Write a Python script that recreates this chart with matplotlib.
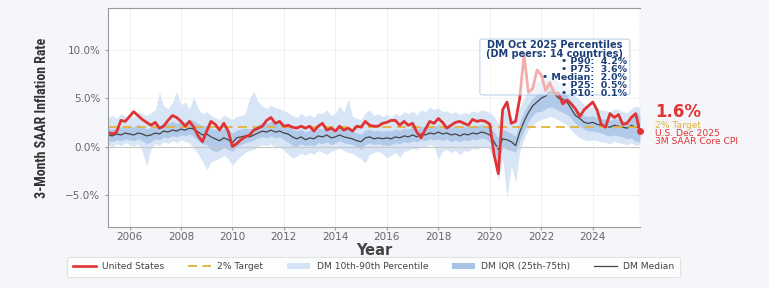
import numpy as np
import pandas as pd
import matplotlib
matplotlib.use('Agg')
import matplotlib.pyplot as plt
from matplotlib import font_manager
from matplotlib.patches import FancyBboxPatch, Patch
from matplotlib.lines import Line2D
from matplotlib.ticker import FuncFormatter

# bimonthly readings, 3M SAAR (%)
us_core = [1.5, 1.3, 1.5, 2.7, 2.6,
           3.1, 3.6, 3.2, 2.8, 2.5, 2.2,
           2.5, 1.9, 2.1, 2.7, 3.2, 3.0,
           2.6, 2.1, 2.6, 2.0, 1.1, 0.5,
           1.6, 2.6, 2.3, 1.7, 2.4, 1.6,
           0.0, 0.3, 0.7, 1.0, 1.2, 1.7,
           1.9, 2.1, 2.7, 3.0, 2.4, 2.6,
           2.1, 2.2, 2.0, 1.9, 2.1, 1.9,
           2.1, 1.6, 2.1, 2.4, 1.7, 1.9,
           1.6, 2.1, 1.7, 1.9, 1.6, 2.1,
           2.0, 2.6, 2.2, 2.1, 2.1, 2.4,
           2.5, 2.7, 2.7, 2.2, 2.6, 2.2,
           2.4, 1.5, 0.9, 1.8, 2.6, 2.4,
           2.9, 2.5, 1.9, 2.2, 2.5, 2.6,
           2.4, 2.2, 2.8, 2.6, 2.7, 2.6,
           2.3, -0.8, -2.8, 3.8, 4.6, 2.4,
           2.6, 5.0, 9.5, 5.6, 6.0, 7.9,
           7.4, 5.8, 6.6, 5.5, 5.5, 4.4,
           4.8, 4.4, 3.9, 3.1, 3.8, 4.2,
           4.6, 3.8, 2.3, 2.0, 3.4, 3.0,
           3.3, 2.3, 2.4, 3.0, 3.4, 1.6]

dm_median = [1.2, 1.1, 1.3, 1.2, 1.4,
             1.3, 1.2, 1.4, 1.3, 1.1, 1.2,
             1.4, 1.3, 1.6, 1.5, 1.7, 1.6,
             1.8, 1.7, 1.9, 1.8, 1.5, 1.2,
             1.3, 1.0, 0.8, 0.6, 0.9, 0.7,
             0.4, 0.9, 1.0, 1.1, 1.0, 1.2,
             1.4, 1.6, 1.5, 1.7, 1.5, 1.6,
             1.4, 1.3, 1.0, 0.8, 1.0, 0.7,
             0.9, 0.8, 1.1, 1.0, 1.2, 0.9,
             1.0, 1.2, 1.0, 0.9, 0.8, 0.6,
             0.5, 0.9, 1.0, 0.8, 0.9, 0.8,
             0.9, 0.8, 1.0, 0.9, 1.1, 1.0,
             1.2, 1.0, 1.3, 1.2, 1.4, 1.3,
             1.5, 1.3, 1.4, 1.2, 1.3, 1.1,
             1.3, 1.2, 1.4, 1.3, 1.5, 1.4,
             1.2, 0.5, -0.3, 0.8, 0.7, 0.5,
             0.1, 1.5, 2.6, 3.5, 4.2, 4.6,
             5.0, 5.2, 5.6, 5.5, 5.0, 4.9,
             4.6, 3.9, 3.2, 2.9, 2.5, 2.4,
             2.5, 2.3, 2.2, 2.1, 2.0, 2.2,
             2.1, 2.0, 1.9, 2.2, 2.0, 2.0]

dm_p25 = [0.6, 0.5, 0.7, 0.6, 0.8,
          0.7, 0.6, 0.8, 0.6, 0.3, 0.5,
          0.8, 0.7, 1.0, 0.9, 1.1, 1.0,
          1.2, 1.1, 1.3, 1.0, 0.6, 0.3,
          0.2, -0.3, -0.5, -0.4, -0.1, -0.3,
          -0.5, 0.0, 0.2, 0.4, 0.5, 0.7,
          0.9, 1.0, 0.9, 1.1, 0.9, 1.0,
          0.7, 0.5, 0.1, 0.0, 0.3, 0.1,
          0.2, 0.1, 0.4, 0.3, 0.5, 0.2,
          0.4, 0.6, 0.4, 0.3, 0.2, 0.0,
          -0.3, 0.2, 0.4, 0.2, 0.3, 0.2,
          0.1, 0.2, 0.4, 0.3, 0.5, 0.4,
          0.6, 0.5, 0.7, 0.6, 0.8, 0.7,
          0.8, 0.6, 0.8, 0.5, 0.7, 0.5,
          0.7, 0.6, 0.8, 0.7, 0.9, 0.8,
          0.5, -0.5, -1.5, 0.0, -0.3, -0.4,
          -0.6, 0.6, 1.7, 2.6, 3.2, 3.6,
          3.6, 3.9, 4.1, 4.0, 3.7, 3.5,
          3.3, 2.9, 2.4, 2.1, 1.8, 1.6,
          1.6, 1.5, 1.4, 1.2, 1.1, 1.2,
          1.1, 1.0, 0.8, 0.9, 0.5, 0.6]

dm_p75 = [1.9, 1.8, 2.0, 2.0, 2.2,
          2.1, 2.0, 2.3, 2.1, 1.8, 2.0,
          2.2, 2.1, 2.5, 2.4, 2.6, 2.4,
          2.6, 2.5, 2.8, 2.7, 2.4, 2.1,
          2.2, 1.9, 1.8, 1.6, 1.9, 1.7,
          1.4, 1.7, 1.8, 1.9, 1.8, 2.0,
          2.3, 2.5, 2.4, 2.6, 2.4, 2.5,
          2.2, 2.1, 1.8, 1.6, 1.8, 1.5,
          1.7, 1.6, 1.9, 1.8, 2.0, 1.7,
          1.8, 2.1, 1.8, 1.7, 1.6, 1.4,
          1.3, 1.7, 1.8, 1.6, 1.7, 1.6,
          1.7, 1.6, 1.8, 1.7, 1.9, 1.8,
          2.0, 1.8, 2.1, 2.0, 2.2, 2.1,
          2.3, 2.1, 2.2, 2.0, 2.1, 1.9,
          2.1, 2.0, 2.2, 2.1, 2.3, 2.2,
          2.0, 1.5, 0.9, 1.8, 1.6, 1.4,
          1.1, 2.5, 3.6, 4.4, 5.0, 5.4,
          5.8, 6.0, 6.3, 6.2, 5.8, 5.6,
          5.3, 4.7, 4.0, 3.6, 3.2, 3.1,
          3.2, 3.0, 2.9, 2.8, 2.7, 2.9,
          2.8, 2.7, 2.6, 3.0, 3.6, 3.2]

dm_p90 = [3.0, 3.2, 2.9, 3.4, 3.1,
          3.3, 3.0, 3.6, 3.4, 3.2, 3.5,
          3.8, 5.6, 4.2, 3.9, 4.5, 5.7,
          4.3, 4.6, 3.9, 5.1, 3.9, 3.4,
          3.6, 3.2, 3.0, 2.8, 3.3, 3.0,
          2.8, 3.1, 3.2, 3.4, 5.0, 5.7,
          4.6, 4.2, 3.9, 4.3, 4.0, 3.9,
          3.7, 3.5, 3.2, 3.0, 3.4, 3.1,
          3.3, 3.0, 3.5, 3.4, 3.8, 3.2,
          3.4, 4.2, 3.6, 4.9, 3.1, 2.9,
          2.8, 3.5, 3.8, 3.2, 3.4, 3.1,
          3.3, 3.0, 3.4, 3.2, 3.6, 3.4,
          3.7, 3.3, 3.8, 3.6, 4.1, 3.8,
          4.0, 3.6, 3.7, 3.4, 3.6, 3.3,
          3.5, 3.4, 3.7, 3.5, 3.8, 3.7,
          3.5, 3.1, 2.4, 4.3, 3.5, 3.0,
          2.6, 4.0, 5.0, 5.8, 6.2, 6.6,
          6.9, 7.0, 7.3, 7.1, 6.7, 6.4,
          6.2, 5.7, 5.2, 4.8, 4.3, 4.1,
          4.1, 3.9, 3.8, 3.7, 3.6, 3.9,
          3.8, 3.6, 3.5, 3.9, 4.2, 4.0]

dm_p10 = [0.2, 0.0, 0.3, 0.1, 0.4,
          0.2, 0.0, 0.3, -0.5, -2.0, -0.3,
          0.3, 0.1, 0.5, 0.3, 0.6, 0.4,
          0.7, 0.5, 0.4, -0.2, -0.8, -1.5,
          -2.4, -1.6, -1.4, -1.2, -0.9, -1.3,
          -1.9, -1.4, -1.0, -0.6, -0.4, -0.3,
          0.0, 0.2, 0.1, 0.3, -0.2, 0.0,
          -0.4, -0.8, -1.2, -1.0, -0.7, -0.9,
          -0.6, -0.8, -0.4, -0.6, -0.8, -0.5,
          -0.3, -0.2, -0.4, -0.6, -0.7, -1.0,
          -1.3, -1.7, -0.8, -0.6, -0.5, -0.7,
          -1.2, -0.9, -0.6, -1.1, -0.5, -0.4,
          -0.2, -0.3, 0.0, -0.1, 0.2, 0.0,
          -1.3, -0.5, -0.3, -0.6, -0.4, -0.9,
          -0.4, -0.5, -0.2, -0.3, 0.0, -0.1,
          -0.3, -1.5, -3.5, -1.2, -5.3, -2.0,
          -3.7, -0.5, 0.8, 1.8, 2.2, 2.6,
          2.8, 2.9, 3.1, 3.0, 2.7, 2.5,
          2.2, 1.7, 1.2, 0.9, 0.7, 0.6,
          0.7, 0.6, 0.5, 0.4, 0.3, 0.5,
          0.4, 0.3, 0.2, 0.4, 0.1, 0.3]

oct25 = {'P90': 4.2, 'P75': 3.6, 'Median': 2.0, 'P25': 0.5, 'P10': 0.1}
us_last = 1.6

dates = pd.date_range('2005-03-01', periods=len(us_core), freq='2MS')

RED = '#e03434'
GOLD = '#e3b23c'
LIGHT = '#d4e3f5'
IQR = '#a9c4e6'
NAVY = '#1d3f78'

# narrow bold face for the y label if one is around
installed = {f.name for f in font_manager.fontManager.ttflist}
narrow = [f for f in ['Liberation Sans Narrow', 'Roboto Condensed', 'Open Sans Condensed', 'Roboto']
          if f in installed]
ylab_font = narrow[:1] + ['DejaVu Sans']

fig = plt.figure(figsize=(7.69, 2.88), dpi=100, facecolor='#f5f6f9')
ax = fig.add_axes([0.1404, 0.2118, 0.6918, 0.7604])
ax.set_facecolor('white')

ax.fill_between(dates, dm_p10, dm_p90, color=LIGHT, lw=0, alpha=0.9)
ax.fill_between(dates, dm_p25, dm_p75, color=IQR, lw=0, alpha=0.8)
ax.plot(dates, dm_median, color='#444444', lw=0.9)
ax.axhline(0, color='#c8c8c8', lw=0.8)
ax.axhline(2, color=GOLD, lw=1.3, ls=(0, (5, 3)))
ax.plot(dates, us_core, color=RED, lw=2.0)
ax.plot(dates[-1], us_last, 'o', color=RED, ms=4, clip_on=False, zorder=5)
ax.axvline(dates[-1], color='#666666', lw=0.8, ls='--')

ax.set_xlim(dates[0], dates[-1])
ax.set_ylim(-8.3, 14.3)
ax.set_yticks([-5, 0, 5, 10])
ax.yaxis.set_major_formatter(FuncFormatter(lambda v, p: f'{v:.1f}%'.replace('-', '\u2212')))
ticks = pd.to_datetime([f'{y}-01-01' for y in range(2006, 2025, 2)])
ax.set_xticks(ticks)
ax.set_xticklabels([str(t.year) for t in ticks])
ax.grid(True, color='#efefef', lw=0.6)
ax.set_axisbelow(True)
ax.tick_params(labelsize=7.5, labelcolor='#666666', color='#999999', length=2)
ax.tick_params(axis='x', pad=1.5)
for s in ['left', 'bottom', 'top']:
    ax.spines[s].set_color('#9a9a9a')
ax.spines['right'].set_visible(False)

ax.set_xlabel('Year', fontsize=10.5, fontweight='bold', color='#444444', labelpad=1)
ax.set_ylabel('3-Month SAAR Inflation Rate', fontsize=10, fontweight='bold', color='#333333',
              family=ylab_font, labelpad=12)

# percentile box, semi transparent over the lines
box = FancyBboxPatch((0.699, 0.603), 0.282, 0.255, boxstyle='round,pad=0,rounding_size=0.008',
                     transform=ax.transAxes, facecolor='white', edgecolor='#a9c4e6',
                     lw=1, alpha=0.6, zorder=6)
ax.add_patch(box)
ax.text(0.84, 0.852, 'DM Oct 2025 Percentiles\n(DM peers: 14 countries)', transform=ax.transAxes,
        ha='center', va='top', fontsize=7.0, fontweight='bold', color=NAVY, linespacing=0.85, zorder=7)
body = '\n'.join(f'\u2022 {k}:  {v:.1f}%' for k, v in oct25.items())
ax.text(0.976, 0.775, body, transform=ax.transAxes, ha='right', va='top', fontsize=6.8,
        fontweight='bold', color=NAVY, linespacing=0.86, multialignment='right', zorder=7)

# right side callout
ax.text(1.028, 0.525, f'{us_last:.1f}%', transform=ax.transAxes, ha='left', va='center',
        fontsize=12, fontweight='bold', color=RED)
ax.text(1.028, 0.462, '2% Target', transform=ax.transAxes, ha='left', va='center',
        fontsize=6.6, color=GOLD)
ax.text(1.028, 0.446, 'U.S. Dec 2025\n3M SAAR Core CPI', transform=ax.transAxes, ha='left', va='top',
        fontsize=6.6, color=RED, linespacing=0.85)

handles = [Line2D([], [], color=RED, lw=1.9),
           Line2D([], [], color=GOLD, lw=1.3, ls=(0, (5, 3))),
           Patch(facecolor=LIGHT),
           Patch(facecolor=IQR),
           Line2D([], [], color='#444444', lw=0.9)]
labels = ['United States', '2% Target', 'DM 10th-90th Percentile', 'DM IQR (25th-75th)', 'DM Median']
leg = fig.legend(handles, labels, loc='center', bbox_to_anchor=(0.486, 0.073), ncol=5,
                 fontsize=6.6, frameon=True, facecolor='white', edgecolor='#dddddd',
                 handlelength=2.5, handletextpad=0.7, columnspacing=2.6, borderpad=0.6)
leg.get_frame().set_linewidth(0.8)
for t in leg.get_texts():
    t.set_color('#444444')

fig.savefig('out.png', dpi=100, facecolor=fig.get_facecolor())
